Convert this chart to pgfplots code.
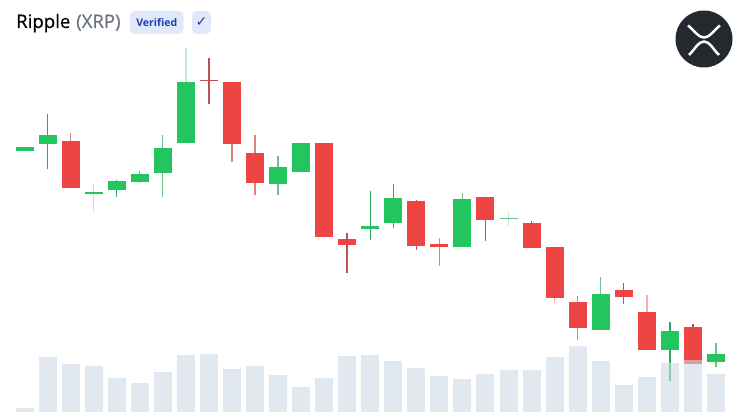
\documentclass[border=0pt]{standalone}
\usepackage{pgfplots}
\usepackage{fontspec}
\setmainfont{Open Sans}
\newfontfamily\dejavu{DejaVu Sans}
\newfontfamily\titlef[FakeBold=0.4]{Open Sans}
\pgfplotsset{compat=1.18}
\definecolor{up}{HTML}{22C55E}
\definecolor{down}{HTML}{EF4444}
\definecolor{vol}{RGB}{207,217,230}
\definecolor{upL}{HTML}{BFEBD0}
\definecolor{upM}{HTML}{6FBF8F}
\definecolor{upD}{HTML}{2FA862}
\definecolor{downL}{HTML}{F6B0B0}
\definecolor{downM}{HTML}{E08080}
\definecolor{downD}{HTML}{C05050}
% all values are heights above the chart floor (picture units)
\newcommand{\segs}[4][1]{\addplot[draw=none,forget plot,mark=none,
  error bars/.cd,y dir=plus,y explicit,error mark=none,
  error bar style={draw=#2,line width=#3pt,opacity=#1}]
  table[row sep=crcr,x=x,y=lo,y error expr=\thisrow{hi}-\thisrow{lo}] {#4};}
\begin{document}
\begin{tikzpicture}
\begin{axis}[
  at={(0pt,0pt)},anchor=south west,
  width=745pt,height=419pt,scale only axis,
  xmin=-1.063,xmax=31.26,ymin=0,ymax=419,
  axis lines=none,clip=true]
% wicks
\segs{upD}{1.4}{x lo hi\\
1 250 304.7\\
15 179 228\\
16 190.7 234.7\\
4 222.3 239\\
28 38.3 97.3\\
}
\segs{upM}{1.4}{x lo hi\\
6 221.7 284\\
11 224 263\\
19 172.3 226.3\\
25 88.7 141.7\\
30 52.3 75.7\\
5 235.7 248\\
}
\segs{upL}{1.4}{x lo hi\\
3 207.3 235\\
7 275.7 370.7\\
21 193 207.3\\
}
\segs{downD}{1.4}{x lo hi\\
8 315 360.7\\
14 145.7 185.7\\
20 178 222\\
26 115 135.7\\
29 55.7 94.7\\
17 169 219\\
22 171.3 198\\
}
\segs{downM}{1.4}{x lo hi\\
2 231.3 285.7\\
9 256.7 336.7\\
10 224 284\\
18 153.3 181\\
24 79 123\\
}
\segs{downL}{1.4}{x lo hi\\
23 116 172\\
27 69 123.7\\
}
% bodies
\segs{up}{18}{x lo hi\\
0 268 272\\
1 275.3 283.7\\
3 224.7 227.3\\
4 229.3 237.7\\
5 236.7 245\\
6 245.7 271\\
7 275.7 336.7\\
11 235 252\\
12 247.3 276\\
15 190 193\\
16 195.7 221.3\\
19 172.3 219.7\\
25 88.7 124.7\\
28 69 88.3\\
30 57 65\\
}
\segs{down}{18}{x lo hi\\
2 231.3 278.3\\
9 275.3 336.7\\
10 236.3 266\\
13 182.3 275.7\\
14 173.7 179.7\\
17 173.3 218\\
18 172 175.3\\
20 199 222\\
22 171.3 196.3\\
23 121.3 172\\
24 90.7 117.3\\
26 122 128.7\\
27 69 107.3\\
29 55 92\\
}
\segs{downD}{18}{x lo hi\\
8 338 339\\
}
\segs{upM}{18}{x lo hi\\
21 199.8 200.8\\
}
% volume, over the candles; floor at 6.7
\segs[.6]{vol}{18}{x lo hi\\
0 6.7 11.3\\
1 6.7 61.7\\
2 6.7 55.3\\
3 6.7 53\\
4 6.7 41\\
5 6.7 36.3\\
6 6.7 46.7\\
7 6.7 64\\
8 6.7 64.7\\
9 6.7 49.7\\
10 6.7 53\\
11 6.7 44\\
12 6.7 32.3\\
13 6.7 41\\
14 6.7 63\\
15 6.7 64\\
16 6.7 58.3\\
17 6.7 51\\
18 6.7 43\\
19 6.7 39.7\\
20 6.7 45.3\\
21 6.7 49\\
22 6.7 49\\
23 6.7 61.7\\
24 6.7 73\\
25 6.7 58\\
26 6.7 34\\
27 6.7 42\\
28 6.7 56\\
29 6.7 59\\
30 6.7 44.7\\
}
\end{axis}
\path[use as bounding box] (0pt,0pt) rectangle (745pt,419pt);
% header
\node[anchor=base west,inner sep=0,font=\fontsize{18.6}{20}\selectfont\titlef,text=black] at (16pt,391pt) {Ripple};
\node[anchor=base west,inner sep=0,font=\fontsize{18.6}{20}\selectfont\titlef,text={rgb,255:red,107;green,114;blue,128}] at (76pt,391pt) {(XRP)};
\fill[fill={rgb,255:red,224;green,232;blue,250},rounded corners=5pt] (130pt,385pt) rectangle (183.5pt,408pt);
\node[inner sep=0,font=\fontsize{10.5}{12}\selectfont\bfseries,text={rgb,255:red,30;green,64;blue,175}] at (156.8pt,396.5pt) {Verified};
\fill[fill={rgb,255:red,224;green,232;blue,250},rounded corners=5pt] (192pt,385pt) rectangle (211pt,408pt);
\node[inner sep=0,font=\fontsize{14}{14}\selectfont\dejavu,text={rgb,255:red,30;green,64;blue,175}] at (201.5pt,396.5pt) {✓};
% logo
\fill[fill={rgb,255:red,35;green,41;blue,47}] (704pt,380pt) circle (28.5pt);
\draw[white,line width=2.5pt] (688pt,393.5pt) .. controls (695pt,388pt) and (698pt,381.5pt) .. (704pt,381.5pt) .. controls (710pt,381.5pt) and (713pt,388pt) .. (720pt,393.5pt);
\draw[white,line width=2.5pt] (689pt,364pt) .. controls (695pt,369.5pt) and (698pt,377.5pt) .. (704pt,377.5pt) .. controls (710pt,377.5pt) and (713pt,369.5pt) .. (719pt,364pt);
\end{tikzpicture}
\end{document}
